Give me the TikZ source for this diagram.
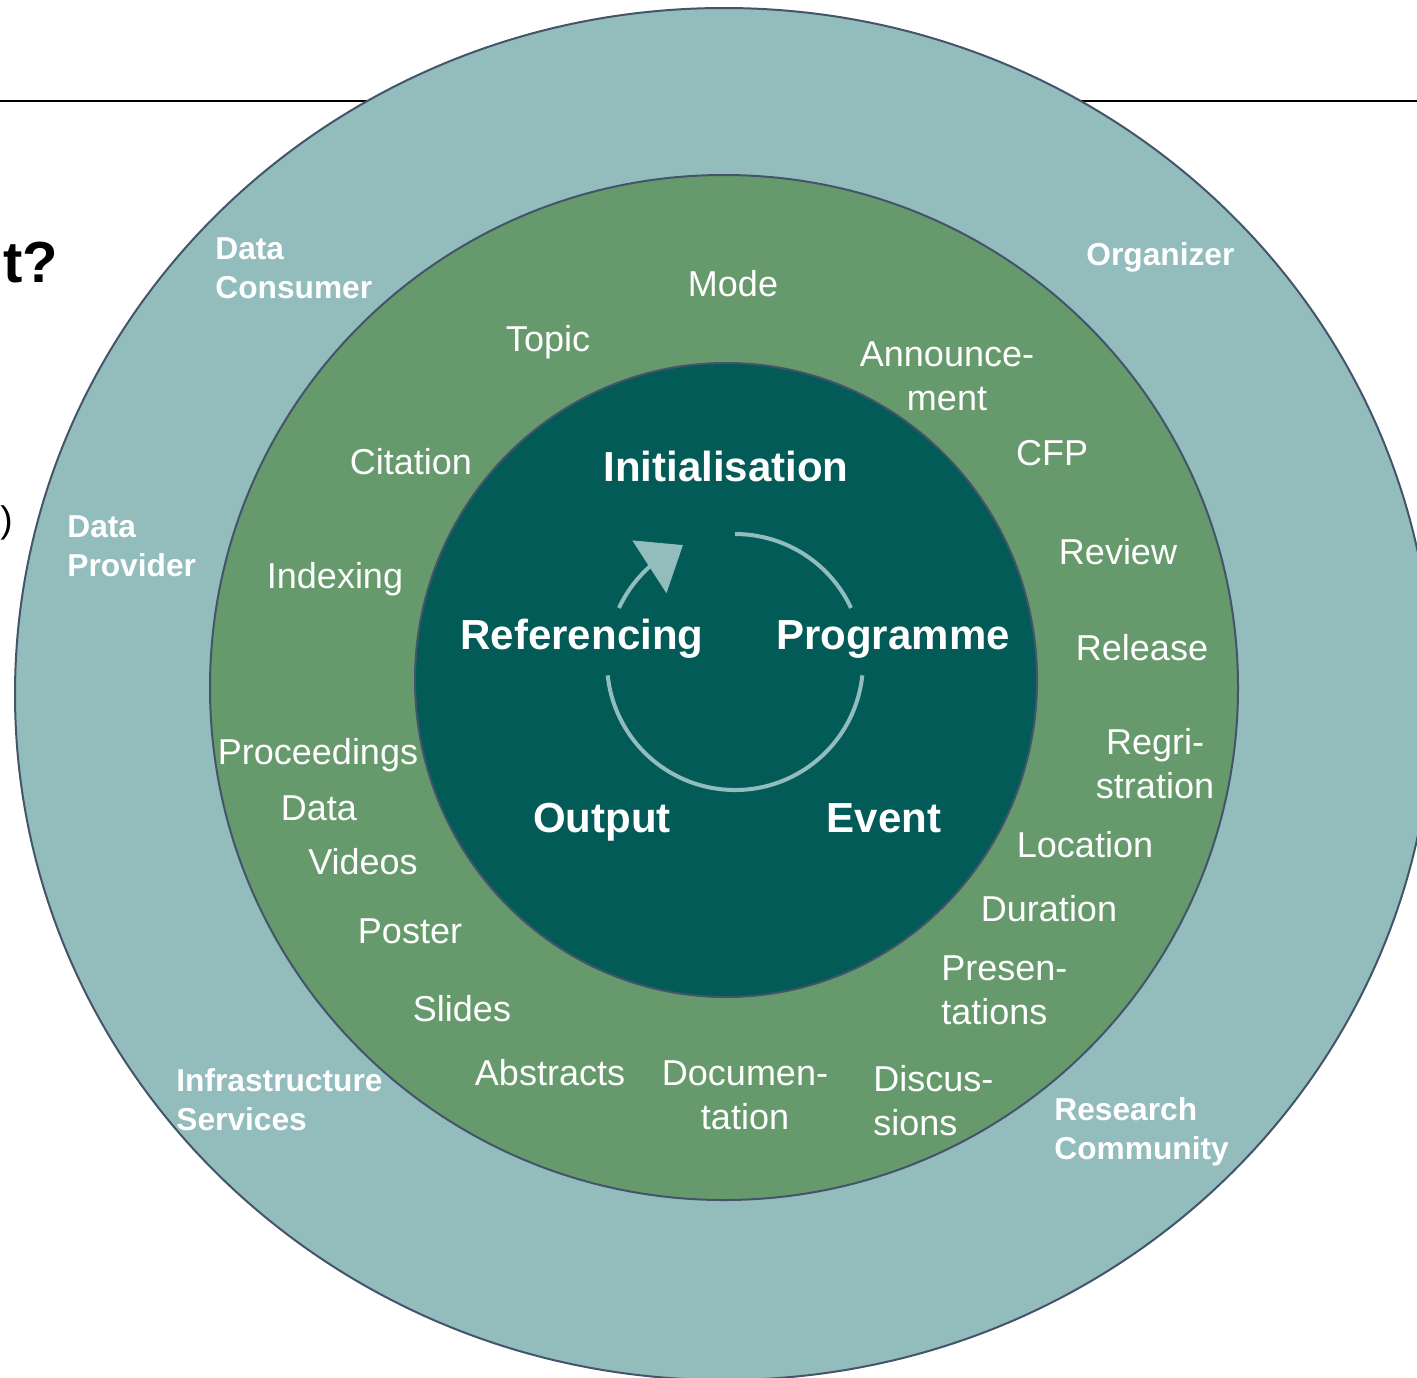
\documentclass[tikz,border=0pt]{standalone}
\usepackage{fontspec}
\setmainfont{Liberation Sans}
\usetikzlibrary{arrows.meta,bending}
\definecolor{outerteal}{HTML}{93BCBC}
\definecolor{ringgreen}{HTML}{669A6C}
\definecolor{coreteal}{HTML}{035B58}
\definecolor{rimline}{HTML}{44546A}
\tikzset{
  rim/.style={draw=rimline,line width=1pt},
  cyclearc/.style={draw=outerteal,line width=2pt},
  rolelabel/.style={text=white,font=\bfseries\fontsize{15.85}{19.5}\selectfont,
    align=left,anchor=base west,inner sep=0pt},
  itemlabel/.style={text=white,font=\fontsize{18}{22}\selectfont,
    align=center,anchor=base,inner sep=0pt},
  phaselabel/.style={text=white,font=\bfseries\fontsize{21}{25}\selectfont,
    anchor=base,inner sep=0pt}
}
\begin{document}
\begin{tikzpicture}[x=0.5pt,y=-0.5pt]
  \useasboundingbox (0,0) rectangle (1417,1377);
  \clip (0,0) rectangle (1417,1377);
  % rule and cut-off slide text
  \coordinate (ruleL) at (0,101);
  \coordinate (ruleR) at (1417,101);
  \draw[line width=1pt] (ruleL) -- (ruleR);
  \node[font=\bfseries\fontsize{29}{34}\selectfont,anchor=base west,inner sep=0pt] (question) at (3,282) {t?};
  \node[font=\fontsize{18.5}{22}\selectfont,anchor=base west,inner sep=0pt] (paren) at (0,532) {)};
  % the three rings
  \filldraw[rim,fill=outerteal] (724,694) ellipse [x radius=709,y radius=686];
  \filldraw[rim,fill=ringgreen] (724,687.5) ellipse [x radius=514,y radius=512.5];
  \filldraw[rim,fill=coreteal] (726,680) ellipse [x radius=311,y radius=317];
  % cycle
  \coordinate (hub) at (735,662);
  \draw[cyclearc] (hub) ++(-90:128) arc [start angle=-90,end angle=-25,radius=128];
  \draw[cyclearc] (hub) ++(6:128) arc [start angle=6,end angle=174,radius=128];
  \draw[cyclearc,-{Triangle[length=20pt,width=31pt,flex]}]
    (hub) ++(205:128) arc [start angle=205,end angle=246,radius=128];
  % phases
  \node[phaselabel] (init) at (726,481) {Initialisation};
  \node[phaselabel] (refer) at (582,649) {Referencing};
  \node[phaselabel] (prog) at (893,649) {Programme};
  \node[phaselabel] (output) at (602,832) {Output};
  \node[phaselabel] (event) at (884,832) {Event};
  % items in the green ring (multi-line: y is the last baseline)
  \node[itemlabel] (mode) at (733,296) {Mode};
  \node[itemlabel] (topic) at (548,351) {Topic};
  \node[itemlabel] (announce) at (947,410) {Announce-\\ment};
  \node[itemlabel] (cfp) at (1052,465) {CFP};
  \node[itemlabel] (review) at (1118,564) {Review};
  \node[itemlabel] (release) at (1142,660) {Release};
  \node[itemlabel] (regist) at (1155,798) {Regri-\\stration};
  \node[itemlabel] (location) at (1085,857) {Location};
  \node[itemlabel] (duration) at (1049,921) {Duration};
  \node[itemlabel,align=left,anchor=base west] (present) at (941,1024) {Presen-\\tations};
  \node[itemlabel,align=left,anchor=base west] (discuss) at (873,1135) {Discus-\\sions};
  \node[itemlabel] (documen) at (745,1129) {Documen-\\tation};
  \node[itemlabel] (abstracts) at (550,1085) {Abstracts};
  \node[itemlabel] (slides) at (462,1021) {Slides};
  \node[itemlabel] (poster) at (410,943) {Poster};
  \node[itemlabel] (videos) at (363,874) {Videos};
  \node[itemlabel] (data) at (319,820) {Data};
  \node[itemlabel] (proceed) at (318,764) {Proceedings};
  \node[itemlabel] (indexing) at (335,588) {Indexing};
  \node[itemlabel] (citation) at (411,474) {Citation};
  % roles in the outer ring
  \node[rolelabel] (consumer) at (215,298) {Data\\Consumer};
  \node[rolelabel] (organizer) at (1086,265) {Organizer};
  \node[rolelabel] (provider) at (67,576) {Data\\Provider};
  \node[rolelabel] (infra) at (176,1130) {Infrastructure\\Services};
  \node[rolelabel] (research) at (1054,1159) {Research\\Community};
\end{tikzpicture}
\end{document}
